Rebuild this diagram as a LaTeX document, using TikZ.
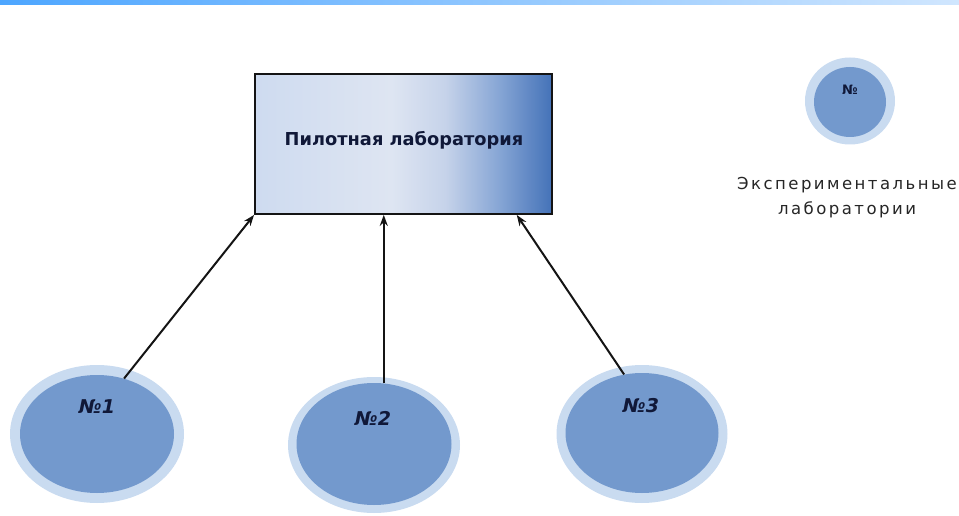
\documentclass[tikz,border=0pt]{standalone}
\usepackage{fontspec}
\setmainfont{DejaVu Sans}
\usetikzlibrary{shapes.geometric,arrows.meta,calc}
\definecolor{barl}{RGB}{77,166,255}
\definecolor{barr}{RGB}{208,230,254}
\definecolor{ringc}{RGB}{201,219,240}
\definecolor{corec}{RGB}{115,153,205}
\definecolor{txtc}{RGB}{16,24,56}
\definecolor{linec}{RGB}{20,20,20}
\definecolor{pla}{RGB}{206,219,240}
\definecolor{plb}{RGB}{222,229,242}
\definecolor{plc}{RGB}{198,211,234}
\definecolor{pld}{RGB}{135,166,213}
\definecolor{ple}{RGB}{68,114,184}
\pgfdeclarehorizontalshading{pilotshade}{100bp}{%
  color(0bp)=(pla);
  color(25bp)=(pla);
  color(48bp)=(plb);
  color(57bp)=(plc);
  color(66bp)=(pld);
  color(75bp)=(ple);
  color(100bp)=(ple)}
\begin{document}
\begin{tikzpicture}[x=1pt,y=-1pt,
  ring/.style={ellipse, fill=ringc, draw=none, inner sep=0pt},
  core/.style={ellipse, fill=corec, draw=none, inner sep=0pt},
  lab/.style={font=\bfseries\itshape\fontsize{19}{19}\selectfont, text=txtc, inner sep=0pt},
  conn/.style={-{Stealth[length=11pt,width=8pt]}, line width=2pt, draw=linec}]
\useasboundingbox (0,0) rectangle (959,516);
\shade[left color=barl, right color=barr] (0,0) rectangle (959,5);

% pilot lab
\node[draw=linec, line width=1.8pt, minimum width=297pt, minimum height=140pt,
      shading=pilotshade, inner sep=0pt] (pilot) at (403.5,144) {};
\node[font=\bfseries\fontsize{17.8}{17.8}\selectfont, text=txtc, inner sep=0pt] (pilottxt) at (404,140) {Пилотная лаборатория};

% experimental labs
\node[ring, minimum width=174pt, minimum height=138pt] (c1ring) at (97,434) {};
\node[core, minimum width=154pt, minimum height=118pt] (c1core) at (97,434) {};
\node[lab] (l1) at (97,407) {№1};

\node[ring, minimum width=172pt, minimum height=136pt] (c2ring) at (374,445) {};
\node[core, minimum width=155pt, minimum height=122pt] (c2core) at (374,444) {};
\node[lab] (l2) at (373,418) {№2};

\node[ring, minimum width=171pt, minimum height=138pt] (c3ring) at (642,434) {};
\node[core, minimum width=153pt, minimum height=120pt] (c3core) at (642,433) {};
\node[lab] (l3) at (641,406) {№3};

% legend
\node[ring, minimum width=90pt, minimum height=87pt] (lgring) at (850,101) {};
\node[core, minimum width=72pt, minimum height=70pt] (lgcore) at (850,102) {};
\node[font=\bfseries\fontsize{13}{13}\selectfont, text=txtc, inner sep=0pt] (lgno) at (850,90) {№};
\node[font=\addfontfeature{LetterSpace=15}\fontsize{16.5}{25}\selectfont, text=black!85, align=center, inner sep=0pt] (lgtxt) at (847,198) {Экспериментальные\\лаборатории};

% connectors
\coordinate (t1) at (pilot.south west);
\coordinate (t2) at ($(pilot.south west)!0.434!(pilot.south east)$);
\coordinate (t3) at ($(pilot.south west)!0.879!(pilot.south east)$);
\draw[conn] (c1core.64) -- (t1);
\draw[conn] (t2 |- c2core.north) -- (t2);
\draw[conn] (c3core.107) -- (t3);
\end{tikzpicture}
\end{document}
